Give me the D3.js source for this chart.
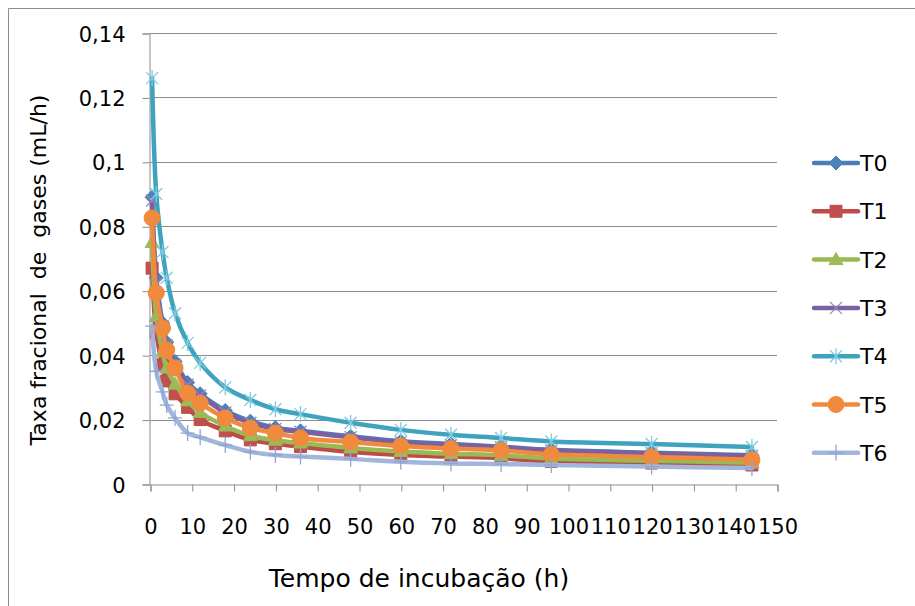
<!DOCTYPE html>
<html>
<head>
<meta charset="utf-8">
<script src="https://cdn.jsdelivr.net/npm/d3@7"></script>
<style>
  body { margin: 0; background: #fff; }
  svg { display: block; }
  text { font-family: "DejaVu Sans", sans-serif; fill: #000; }
</style>
</head>
<body>
<div id="chart"></div>
<script>
// tempo de incubação (h)
var hours = [0.5, 1.5, 3, 4, 6, 9, 12, 18, 24, 30, 36, 48, 60, 72, 84, 96, 120, 144];

// taxa fracional (mL/h), one list per tratamento
var t0 = [0.089, 0.064, 0.050, 0.044, 0.038, 0.0315, 0.0280, 0.0228, 0.0195, 0.0175, 0.0165, 0.0148, 0.0133, 0.0124, 0.0116, 0.0106, 0.0097, 0.0089];
var t1 = [0.067, 0.047, 0.037, 0.032, 0.028, 0.0238, 0.0200, 0.0165, 0.0137, 0.0125, 0.0116, 0.0100, 0.0090, 0.0085, 0.0080, 0.0070, 0.0065, 0.0059];
var t2 = [0.075, 0.052, 0.041, 0.036, 0.031, 0.0258, 0.0222, 0.0180, 0.0150, 0.0136, 0.0127, 0.0112, 0.0101, 0.0094, 0.0089, 0.0079, 0.0072, 0.0066];
var t3 = [0.088, 0.062, 0.049, 0.043, 0.037, 0.0308, 0.0275, 0.0222, 0.0190, 0.0171, 0.0162, 0.0145, 0.0130, 0.0121, 0.0114, 0.0104, 0.0095, 0.0087];
var t4 = [0.126, 0.090, 0.072, 0.064, 0.053, 0.0438, 0.0376, 0.0300, 0.0261, 0.0232, 0.0217, 0.0190, 0.0168, 0.0153, 0.0143, 0.0132, 0.0124, 0.0115];
var t5 = [0.0826, 0.0593, 0.0484, 0.0416, 0.0360, 0.0282, 0.0251, 0.0205, 0.0174, 0.0158, 0.0143, 0.0130, 0.0118, 0.0110, 0.0104, 0.0092, 0.0084, 0.0075];
var t6 = [0.049, 0.035, 0.0286, 0.0245, 0.0205, 0.0158, 0.0145, 0.0121, 0.0100, 0.0090, 0.0085, 0.0078, 0.0069, 0.0064, 0.0062, 0.0059, 0.0054, 0.0050];

var seriesNames = ['T0', 'T1', 'T2', 'T3', 'T4', 'T5', 'T6'];
var seriesValues = [t0, t1, t2, t3, t4, t5, t6];

var xTicks = [0, 10, 20, 30, 40, 50, 60, 70, 80, 90, 100, 110, 120, 130, 140, 150];
var yTicks = [0, 0.02, 0.04, 0.06, 0.08, 0.1, 0.12, 0.14];

var xTitle = 'Tempo de incubação (h)';
var yTitle = 'Taxa fracional  de  gases (mL/h)';

// aparência de cada série (cor da linha, marcador)
var styles = {
  T0: { line: '#4A7EBB', mark: 'diamond', fill: '#4F81BD', stroke: '#4A7EBB' },
  T1: { line: '#BE4B48', mark: 'square', fill: '#C0504D', stroke: '#BE4B48' },
  T2: { line: '#98B954', mark: 'triangle', fill: '#9BBB59', stroke: '#98B954' },
  T3: { line: '#7D60A0', mark: 'x', fill: 'none', stroke: '#9A85B8' },
  T4: { line: '#3FA3BD', mark: 'star', fill: 'none', stroke: '#7ECBE0' },
  T5: { line: '#F08A3C', mark: 'circle', fill: '#F08A3C', stroke: '#F08A3C' },
  T6: { line: '#A2B6DC', mark: 'plus', fill: 'none', stroke: '#8EA6D6' }
};

function markerPath(kind) {
  switch (kind) {
    case 'diamond': return 'M0,-7L7,0L0,7L-7,0Z';
    case 'square': return 'M-6,-6H6V6H-6Z';
    case 'triangle': return 'M0,-7L7,5L-7,5Z';
    case 'x': return 'M-6,-6L6,6M-6,6L6,-6';
    case 'star': return 'M-6,-6L6,6M-6,6L6,-6M0,-8L0,8';
    case 'circle': return 'M8,0A8,8 0 1,1 -8,0A8,8 0 1,1 8,0Z';
    case 'plus': return 'M-7,0H7M0,-8V8';
  }
}

var width = 915, height = 606;
var svg = d3.select('#chart').append('svg')
  .attr('width', width)
  .attr('height', height);

// moldura do gráfico (só aparecem esquerda e topo)
svg.append('path')
  .attr('d', 'M8.5,' + height + 'V8.5H' + width)
  .attr('fill', 'none')
  .attr('stroke', '#8c8c8c')
  .attr('stroke-width', 1);

var x = d3.scaleLinear().domain([0, 150]).range([150, 777]);
var y = d3.scaleLinear().domain([0, 0.14]).range([484, 33]);

var ptBR = d3.formatLocale({ decimal: ',', thousands: '.', grouping: [3], currency: ['R$', ''] });
var fmt = ptBR.format('~g');

// grade horizontal
svg.append('g')
  .selectAll('line')
  .data(yTicks.filter(function (d) { return d > 0; }))
  .join('line')
  .attr('x1', x(0)).attr('x2', x(150))
  .attr('y1', function (d) { return Math.round(y(d)) + 0.5; })
  .attr('y2', function (d) { return Math.round(y(d)) + 0.5; })
  .attr('stroke', '#8c8c8c');

var yAxis = svg.append('g')
  .attr('transform', 'translate(' + (x(0) - 0.5) + ',0.5)')
  .call(d3.axisLeft(y).tickValues(yTicks).tickFormat(fmt).tickSize(7).tickPadding(17));

var xAxis = svg.append('g')
  .attr('transform', 'translate(0.5,' + (y(0) + 0.5) + ')')
  .call(d3.axisBottom(x).tickValues(xTicks).tickFormat(fmt).tickSize(7).tickPadding(28));

[yAxis, xAxis].forEach(function (g) {
  g.select('.domain').attr('stroke', '#8c8c8c');
  g.selectAll('.tick line').attr('stroke', '#8c8c8c');
  g.selectAll('.tick text').style('font-size', '21px').attr('fill', '#000');
});
yAxis.selectAll('.tick text').attr('dy', '0.36em');

// títulos dos eixos
svg.append('text')
  .attr('x', 419)
  .attr('y', 587)
  .attr('text-anchor', 'middle')
  .style('font-size', '25px')
  .text(xTitle);

svg.append('text')
  .attr('transform', 'translate(46,270) rotate(-90)')
  .attr('text-anchor', 'middle')
  .style('font-size', '22px')
  .style('white-space', 'pre')
  .text(yTitle);

// séries
var line = d3.line()
  .x(function (d) { return x(d.h); })
  .y(function (d) { return y(d.v); })
  .curve(d3.curveCatmullRom.alpha(0.5));

seriesNames.forEach(function (name, i) {
  var st = styles[name];
  var pts = hours.map(function (h, j) { return { h: h, v: seriesValues[i][j] }; });
  var g = svg.append('g').attr('class', 'serie-' + name);

  g.append('path')
    .datum(pts)
    .attr('d', line)
    .attr('fill', 'none')
    .attr('stroke', st.line)
    .attr('stroke-width', 4.5)
    .attr('stroke-linejoin', 'round')
    .attr('stroke-linecap', 'round');

  g.selectAll('path.mk')
    .data(pts)
    .join('path')
    .attr('class', 'mk')
    .attr('transform', function (d) { return 'translate(' + x(d.h) + ',' + y(d.v) + ')'; })
    .attr('d', markerPath(st.mark))
    .attr('fill', st.fill)
    .attr('stroke', st.stroke)
    .attr('stroke-width', st.fill === 'none' ? 1.3 : 1);
});

// legenda
var legend = svg.append('g');
seriesNames.forEach(function (name, i) {
  var st = styles[name];
  var ly = 163 + i * 48.3;
  var item = legend.append('g').attr('transform', 'translate(0,' + ly + ')');
  item.append('line')
    .attr('x1', 814).attr('x2', 858)
    .attr('stroke', st.line)
    .attr('stroke-width', 4.5)
    .attr('stroke-linecap', 'round');
  item.append('path')
    .attr('transform', 'translate(836,0)')
    .attr('d', markerPath(st.mark))
    .attr('fill', st.fill)
    .attr('stroke', st.stroke)
    .attr('stroke-width', st.fill === 'none' ? 1.3 : 1);
  item.append('text')
    .attr('x', 860)
    .attr('y', 8)
    .style('font-size', '22px')
    .text(name);
});
</script>
</body>
</html>
